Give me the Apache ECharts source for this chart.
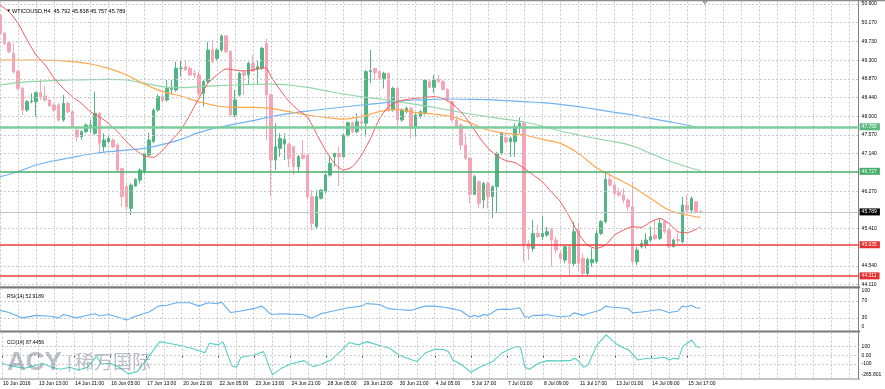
<!DOCTYPE html>
<html><head><meta charset="utf-8">
<script src="https://cdn.jsdelivr.net/npm/echarts@6/dist/echarts.min.js"></script>
<style>html,body{margin:0;padding:0;background:#fff}#c{width:885px;height:389px}</style>
</head><body><div id="c"></div>
<script>
const timeLabels = ['10 Jun 2016','13 Jun 13:00','14 Jun 21:00','16 Jun 05:00','17 Jun 13:00','20 Jun 21:00','22 Jun 05:00','23 Jun 13:00','24 Jun 21:00','28 Jun 05:00','29 Jun 13:00','30 Jun 21:00','4 Jul 05:00','5 Jul 17:00','7 Jul 01:00','8 Jul 09:00','11 Jul 17:00','13 Jul 01:00','14 Jul 09:00','15 Jul 17:00'];

const opens = [50.348,49.923,49.707,49.460,49.036,48.650,48.148,48.341,48.341,48.550,48.473,48.380,48.264,48.264,47.917,48.303,48.110,47.685,47.531,47.647,47.778,47.608,48.071,47.300,47.415,47.454,47.338,46.798,46.373,45.872,46.389,46.528,46.721,47.107,47.415,48.148,48.457,48.380,48.627,48.611,49.113,49.152,49.113,48.997,48.959,48.534,48.804,49.537,49.345,49.537,49.862,49.499,48.033,48.496,49.013,48.959,49.229,49.090,49.113,49.692,48.496,46.991,47.261,47.361,47.361,47.300,46.836,47.107,47.107,46.142,45.447,46.103,46.258,46.644,47.068,47.145,47.068,47.570,47.855,47.647,47.878,47.840,49.036,49.113,49.036,48.882,48.997,48.148,48.650,47.917,48.110,48.187,47.724,47.994,48.071,48.804,48.673,48.858,48.804,48.627,48.341,47.917,47.801,47.338,47.030,46.196,46.489,46.065,46.451,46.142,46.373,47.145,47.508,47.415,47.415,47.778,47.840,45.062,44.946,45.293,45.216,45.255,45.370,45.139,44.830,44.676,44.984,44.599,45.370,44.714,44.367,44.614,44.637,45.293,45.563,46.543,46.412,46.234,46.181,46.065,45.910,44.637,44.984,45.023,45.139,45.255,45.177,45.563,45.370,44.984,45.154,45.100,45.949,45.833,46.026,45.792];
const highs = [50.386,49.962,49.730,49.692,49.074,48.689,48.380,48.534,48.573,48.843,48.704,48.390,48.303,48.303,48.496,48.341,48.148,47.724,47.685,47.840,47.917,48.573,48.110,47.608,47.570,47.492,47.377,46.810,46.466,46.451,46.566,46.798,47.161,47.624,48.187,48.511,48.534,48.843,48.843,49.267,49.306,49.306,49.152,49.074,49.036,48.843,49.730,49.769,49.576,49.900,49.885,49.537,48.611,49.036,49.074,49.267,49.422,49.306,49.615,49.808,48.534,47.840,47.608,47.608,47.377,47.315,47.107,47.454,47.130,46.296,46.296,46.312,46.682,47.068,47.160,47.300,47.608,47.878,47.878,48.071,48.071,49.074,49.537,49.120,49.051,49.036,49.013,48.689,48.673,48.187,48.226,48.226,48.071,48.148,48.858,48.858,48.959,48.959,48.843,48.650,48.380,47.955,47.840,47.608,47.068,46.644,46.528,46.489,46.489,46.412,47.184,47.624,47.608,47.531,47.840,47.979,47.878,45.139,45.602,45.486,45.695,45.447,45.424,45.216,44.907,45.023,45.023,45.563,45.525,44.830,44.737,44.946,45.370,45.602,46.721,46.682,46.489,46.335,46.335,46.103,46.489,44.984,45.139,45.293,45.447,45.602,45.640,45.602,45.409,45.177,45.293,46.142,46.181,46.142,46.030,45.838];
const lows = [49.885,49.653,49.460,48.997,48.611,48.033,48.110,48.303,47.994,48.380,48.341,48.226,48.110,47.878,47.878,48.071,47.747,47.415,47.454,47.608,47.624,47.570,47.145,47.184,47.377,47.261,46.721,45.910,45.833,45.718,46.373,46.451,46.682,47.068,47.392,48.110,48.341,48.341,48.496,48.573,48.920,49.059,48.936,48.882,48.457,48.226,48.766,49.229,49.306,49.499,49.460,47.994,47.979,48.457,48.496,48.727,49.036,48.727,49.074,47.454,46.142,46.759,47.068,46.991,46.836,46.644,46.721,47.006,46.080,45.370,45.409,46.080,46.219,46.605,46.836,46.389,47.053,47.531,47.608,47.608,47.685,47.531,48.766,48.843,48.843,48.650,48.110,48.110,47.763,47.878,48.071,47.492,47.531,47.955,48.033,48.650,48.534,48.766,48.596,48.341,47.878,47.747,47.222,46.991,45.988,46.181,45.872,45.872,45.872,45.640,45.756,47.107,47.377,47.068,47.068,47.608,44.637,44.676,44.869,45.177,45.139,45.216,44.521,44.830,44.637,44.599,44.328,44.521,44.405,44.290,44.328,44.521,44.599,45.255,45.525,46.373,46.142,46.142,45.988,45.818,44.560,44.560,44.946,44.946,45.100,45.139,45.139,45.293,44.946,44.969,45.062,45.062,45.756,45.756,45.756,45.757];
const closes = [49.923,49.692,49.499,49.036,48.650,48.148,48.341,48.357,48.550,48.457,48.380,48.241,48.148,47.917,48.303,48.110,47.763,47.531,47.647,47.801,47.801,48.071,47.377,47.454,47.492,47.300,46.759,46.142,45.910,46.412,46.543,46.759,47.145,47.454,48.148,48.457,48.357,48.650,48.650,49.113,49.120,49.074,48.959,48.959,48.534,48.804,49.537,49.267,49.537,49.862,49.499,48.033,48.380,48.997,48.951,49.229,49.051,49.152,49.576,48.496,46.991,47.300,47.492,47.469,47.030,46.836,47.068,47.030,46.142,45.525,46.142,46.296,46.644,46.914,47.145,47.068,47.570,47.855,47.647,47.878,47.840,49.036,49.059,49.013,48.882,48.997,48.148,48.650,47.917,48.148,48.187,47.724,48.033,48.110,48.843,48.673,48.843,48.804,48.627,48.380,47.917,47.778,47.338,47.030,46.196,46.605,45.988,46.451,46.142,46.373,47.145,47.608,47.415,47.492,47.763,47.840,45.062,44.946,45.293,45.216,45.293,45.332,45.139,44.907,44.714,44.984,44.599,45.332,44.599,44.367,44.691,44.691,45.293,45.563,46.543,46.412,46.219,46.181,46.065,45.910,44.637,44.907,45.062,45.139,45.216,45.177,45.525,45.332,44.984,45.139,45.123,45.949,45.833,46.103,45.795,45.789];

const maRed = [[0,50.579],[2,50.425],[4,50.155],[6,49.769],[8,49.422],[10,49.190],[12,48.882],[14,48.650],[16,48.457],[18,48.303],[20,48.110],[22,47.994],[24,47.840],[26,47.647],[28,47.415],[30,47.222],[32,47.083],[34,47.053],[36,47.222],[38,47.454],[40,47.685],[42,48.033],[44,48.419],[46,48.766],[48,48.959],[50,49.098],[52,49.074],[54,49.051],[56,49.074],[58,49.128],[59,49.113],[60,48.920],[62,48.611],[64,48.341],[66,48.148],[68,47.994],[70,47.608],[72,47.222],[74,46.914],[76,46.759],[78,46.836],[80,47.107],[82,47.492],[84,47.955],[86,48.226],[88,48.341],[90,48.395],[92,48.419],[94,48.442],[96,48.457],[98,48.419],[100,48.303],[102,48.110],[104,47.840],[106,47.531],[108,47.261],[110,47.083],[112,46.975],[114,46.929],[116,46.798],[118,46.644],[120,46.489],[122,46.258],[124,46.026],[126,45.679],[128,45.293],[130,45.023],[132,44.946],[134,45.023],[136,45.255],[138,45.370],[140,45.447],[142,45.432],[144,45.563],[146,45.640],[148,45.525],[150,45.332],[152,45.308],[154,45.386],[155,45.447]];
const maOrange = [[0,49.306],[4,49.306],[8,49.306],[12,49.298],[16,49.267],[20,49.213],[24,49.113],[28,48.959],[32,48.750],[36,48.573],[40,48.473],[44,48.341],[48,48.241],[52,48.210],[56,48.210],[60,48.187],[64,48.110],[68,48.033],[72,47.979],[76,47.940],[80,47.994],[84,48.110],[88,48.164],[92,48.087],[96,48.056],[100,47.994],[104,47.855],[108,47.685],[112,47.608],[116,47.570],[120,47.469],[124,47.377],[128,47.145],[132,46.814],[136,46.590],[140,46.373],[144,46.103],[148,45.833],[152,45.718],[155,45.664]];
const maGreen = [[0,48.727],[4,48.781],[8,48.812],[12,48.835],[16,48.843],[20,48.851],[24,48.858],[28,48.843],[32,48.766],[36,48.689],[40,48.665],[44,48.689],[48,48.712],[52,48.727],[56,48.743],[60,48.750],[64,48.727],[68,48.673],[72,48.596],[76,48.519],[80,48.457],[84,48.403],[88,48.341],[92,48.280],[96,48.210],[100,48.133],[104,48.056],[108,47.994],[112,47.932],[116,47.871],[120,47.778],[124,47.662],[128,47.570],[132,47.485],[136,47.415],[140,47.315],[144,47.145],[148,46.975],[152,46.836],[155,46.744]];
const maBlue = [[0,46.605],[4,46.721],[8,46.875],[12,46.975],[16,47.053],[20,47.130],[24,47.184],[28,47.222],[32,47.261],[36,47.353],[40,47.469],[44,47.624],[48,47.740],[52,47.824],[56,47.902],[60,47.994],[64,48.071],[68,48.125],[72,48.172],[76,48.218],[80,48.264],[84,48.303],[88,48.349],[92,48.380],[96,48.395],[100,48.403],[104,48.395],[108,48.388],[112,48.365],[116,48.341],[120,48.318],[124,48.280],[128,48.226],[132,48.164],[136,48.095],[140,48.033],[144,47.955],[148,47.878],[152,47.801],[155,47.732]];

const rsi = [[0,48],[2,43],[5,30],[8,36],[11,34],[13,30],[14,38],[17,30],[19,35],[21,40],[22,35],[24,38],[26,32],[28,25],[30,34],[33,44],[35,58],[37,60],[39,66],[42,66],[44,58],[46,66],[48,64],[49,68],[51,43],[53,46],[56,52],[58,58],[60,38],[62,40],[64,39],[67,38],[69,29],[71,40],[74,47],[77,54],[80,58],[81,64],[84,62],[86,52],[88,50],[91,48],[94,58],[96,58],[98,56],[100,52],[102,47],[104,32],[105,36],[106,32],[107,38],[108,36],[109,43],[110,50],[112,51],[113,50],[115,54],[116,34],[117,31],[118,36],[120,36],[121,38],[124,32],[125,34],[126,34],[127,42],[129,36],[130,40],[132,46],[133,50],[134,58],[135,56],[137,54],[139,52],[140,42],[142,44],[144,47],[146,50],[148,43],[150,46],[151,58],[152,56],[153,60],[154,54],[155,52.9189]];
const cci = [[0,-91],[2,-122],[5,-148],[7,-122],[9,-91],[11,-137],[13,-160],[15,-137],[17,-168],[19,-137],[21,-8],[22,-100],[24,-91],[26,-137],[28,-213],[30,-187],[32,-54],[35,155],[37,137],[40,106],[42,80],[45,29],[46,137],[48,118],[49,155],[51,-122],[52,-137],[53,-23],[56,3],[58,41],[60,-225],[62,-148],[64,-100],[67,-62],[69,-130],[71,-100],[73,-54],[75,41],[77,144],[79,118],[81,155],[84,106],[86,80],[88,3],[91,-54],[92,-72],[94,29],[96,68],[98,65],[99,41],[100,-54],[102,-110],[104,-194],[106,-137],[108,-91],[109,-65],[111,29],[112,53],[114,99],[115,91],[116,-137],[117,-160],[119,-91],[121,-62],[123,-65],[126,-62],[127,-35],[128,-72],[129,-137],[130,-110],[132,118],[134,232],[136,137],[138,80],[139,61],[141,-54],[143,-35],[145,-35],[147,-23],[148,-54],[149,-35],[150,-45],[151,99],[152,137],[153,174],[154,99],[155,87.4456]];

const priceTicks = [50.600,50.170,49.730,49.300,48.870,48.440,48.000,47.570,47.140,46.710,46.270,45.840,45.410,44.980,44.540,44.110];
const levels = [47.756,46.727,45.035,44.311];
const lastPrice = 45.789;
const rsiTicks = [100,70,30,0];
const rsiTickLabels = ['100','70','30','0'];
const cciTicks = [259.158,100,0,-100,-265.801];
const cciTickLabels = ['259.158','100','0.00','-100','-265.801'];
const titleText = 'WTICOUSD,H4  45.792 45.838 45.757 45.789';
const rsiTitle = 'RSI(14) 52.9189';
const cciTitle = 'CCI(14) 87.4456';

const N = 191;
const cats = Array.from({length:N},(_,i)=>'b'+i);
const FONT = 'Liberation Sans';
const levelColors = ['#7dcd9c','#44ad67','#ef3b3b','#ef3b3b'];
const levelBg = ['#5cb981','#44ad67','#e62e2e','#e62e2e'];
const levelWidth = [2.5,1.5,1.6,1.6];

const candleData = opens.map((o,i)=>[o,closes[i],lows[i],highs[i]]);
const vSplit = {show:true, interval:(i)=>i%4===0, lineStyle:{color:'#c9c9c9', type:[2,2], width:1}};

function xAx(grid, showLabel){
  return {type:'category', gridIndex:grid, data:cats, boundaryGap:false,
    axisLine:{show:false}, splitLine:vSplit,
    axisTick:{show:showLabel, interval:(i)=>i%8===0 && i/8<timeLabels.length, length:2, lineStyle:{color:'#333'}},
    axisLabel:{show:showLabel, interval:(i)=>i%8===0 && i/8<timeLabels.length, formatter:(v,i)=>timeLabels[i/8]||'',
      align:'left', margin:2.5, fontSize:5, fontFamily:FONT, color:'#000', padding:[0,0,0,1]}};
}
function yAx(grid,min,max){
  return {type:'value', gridIndex:grid, min:min, max:max, position:'right',
    axisLine:{show:true, lineStyle:{color:'#808080', width:1}}, axisTick:{show:false}, axisLabel:{show:false}, splitLine:{show:false}};
}
const lblBase = {show:true, position:'end', distance:3, fontSize:5, fontFamily:FONT, color:'#000'};
const noLine = {color:'rgba(0,0,0,0)', width:0};

const gridMarks = priceTicks.filter(v=>!levels.concat([lastPrice]).some(l=>Math.abs(l-v)<0.1)).map(v=>
  ({yAxis:v, label:Object.assign({}, lblBase, {formatter:v.toFixed(3)})}));
const levelMarks = levels.map((v,k)=>({yAxis:v, lineStyle:{color:levelColors[k], width:levelWidth[k], type:'solid'},
  label:Object.assign({}, lblBase, {distance:1, formatter:v.toFixed(3), color:'#fff', backgroundColor:levelBg[k], padding:[1,3,1,2]})}));
levelMarks.push({yAxis:lastPrice, lineStyle:{color:'#c4c4c4', width:1, type:'solid'},
  label:Object.assign({}, lblBase, {distance:1, formatter:lastPrice.toFixed(3), color:'#fff', backgroundColor:'#000', padding:[1,3,1,2]})});

function subMarks(ticks, labels, dashed, offsets){
  return ticks.map((v,k)=>({yAxis:v,
    lineStyle: dashed.indexOf(v)>=0 ? {color:'#c9c9c9', type:[2,2], width:1} : noLine,
    label:Object.assign({}, lblBase, {formatter:labels[k], offset:[0, offsets[k]]})}));
}

const option = {
  animation:false,
  backgroundColor:'#fff',
  title:[
    {text:titleText, left:7, top:3, textStyle:{fontSize:5.5, fontWeight:'normal', fontFamily:FONT, color:'#000'}},
    {text:'▼', left:1.5, top:3.5, textStyle:{fontSize:4.5, fontWeight:'normal', color:'#000'}},
    {text:rsiTitle, left:2, top:289.5, textStyle:{fontSize:5, fontWeight:'normal', fontFamily:FONT, color:'#000'}},
    {text:cciTitle, left:2, top:335, textStyle:{fontSize:5, fontWeight:'normal', fontFamily:FONT, color:'#000'}}
  ],
  grid:[
    {left:-1.2, right:26.4, top:1.5, height:285},
    {left:-1.2, right:26.4, top:288.5, height:42},
    {left:-1.2, right:26.4, top:332.5, height:46}
  ],
  xAxis:[xAx(0,false), xAx(1,false), xAx(2,true)],
  yAxis:[yAx(0,44.064,50.660), yAx(1,0,100), yAx(2,-265.801,259.158)],
  series:[
    {type:'line', name:'grid', xAxisIndex:0, yAxisIndex:0, data:[], z:1, silent:true,
      markLine:{symbol:'none', silent:true, animation:false, lineStyle:{color:'#c9c9c9', type:[2,2], width:1}, data:gridMarks}},
    {type:'line', name:'MA200', xAxisIndex:0, yAxisIndex:0, data:maBlue, showSymbol:false, smooth:0.3, lineStyle:{color:'#72b3f2', width:1.2}, z:3},
    {type:'line', name:'MA100', xAxisIndex:0, yAxisIndex:0, data:maGreen, showSymbol:false, smooth:0.3, lineStyle:{color:'#92d6ab', width:1.2}, z:3},
    {type:'line', name:'MA50', xAxisIndex:0, yAxisIndex:0, data:maOrange, showSymbol:false, smooth:0.3, lineStyle:{color:'#ffa94d', width:1.2}, z:3},
    {type:'candlestick', name:'WTICOUSD', xAxisIndex:0, yAxisIndex:0, data:candleData, barWidth:3, z:2,
      itemStyle:{color:'#52b583', color0:'#f4a5b6', borderColor:'#52b583', borderColor0:'#f4a5b6', borderWidth:1},
      markLine:{symbol:'none', silent:true, animation:false, data:levelMarks}},
    {type:'line', name:'MA10', xAxisIndex:0, yAxisIndex:0, data:maRed, showSymbol:false, smooth:0.2, lineStyle:{color:'#f25757', width:1}, z:4},
    {type:'line', name:'RSI', xAxisIndex:1, yAxisIndex:1, data:rsi, showSymbol:false, lineStyle:{color:'#66adf2', width:1.1},
      markLine:{symbol:'none', silent:true, animation:false, data:subMarks(rsiTicks,rsiTickLabels,[70,30],[2,0,0,-3.5])}},
    {type:'line', name:'CCI', xAxisIndex:2, yAxisIndex:2, data:cci, showSymbol:false, lineStyle:{color:'#56cfc4', width:1.1},
      markLine:{symbol:'none', silent:true, animation:false, data:subMarks(cciTicks,cciTickLabels,[100,0,-100],[4,0,0,0,-4])}}
  ],
  graphic:[
    {type:'rect', shape:{x:0,y:0,width:885,height:1.2}, style:{fill:'#8a8a8a'}, silent:true},
    {type:'rect', shape:{x:0,y:286.3,width:860,height:2.2}, style:{fill:'#7a7a7a'}, silent:true},
    {type:'rect', shape:{x:0,y:330.6,width:860,height:2}, style:{fill:'#7a7a7a'}, silent:true},
    {type:'rect', shape:{x:0,y:378.5,width:860,height:1}, style:{fill:'#8a8a8a'}, silent:true},
    {type:'polygon', shape:{points:[[702,1],[708,1],[705,4.5]]}, style:{fill:'#9a9a9a'}, silent:true},
    {type:'text', left:7, top:350, silent:true, z:10, style:{text:'ACY', font:'bold 26px "Liberation Sans"', fill:'rgba(120,130,142,0.5)'}},
    {type:'text', left:67, top:353, silent:true, z:10, style:{text:'|', font:'19px "Liberation Sans"', fill:'rgba(120,130,142,0.5)'}},
    {type:'text', left:75, top:352, silent:true, z:10, style:{text:'稀万国际', font:'19px "Noto Sans CJK SC"', fill:'rgba(120,130,142,0.5)'}}
  ]
};
const chart = echarts.init(document.getElementById('c'), null, {renderer:'canvas'});
chart.setOption(option);
</script></body></html>
